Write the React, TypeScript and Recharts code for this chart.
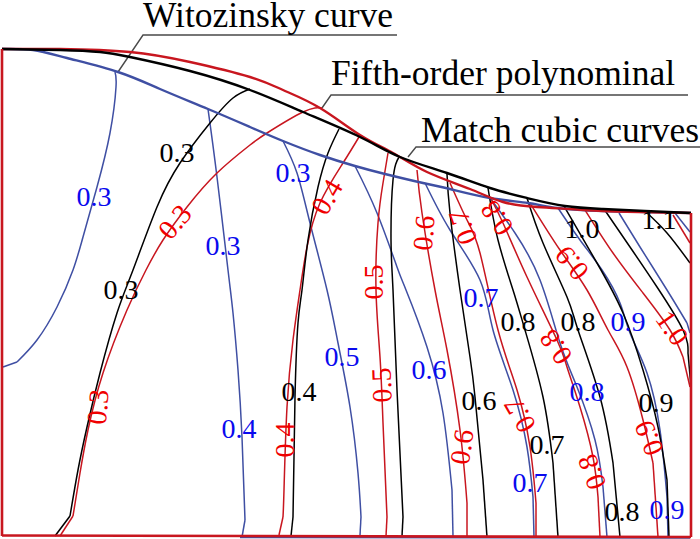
import React from "react";
import { ComposedChart, Line, Scatter, XAxis, YAxis } from "recharts";

type P = { x: number; y: number };
type L = { x: number; y: number; text: string; angle?: number };
const pts = (a: number[][]): P[] => a.map(([x, y]) => ({ x, y }));

const RED = "#c8161f";
const BLUE = "#3f4fa3";
const BLACK = "#000000";
const LEADER = "#4a4a4a";

// outline
const frameLeft = pts([[2, 49], [2, 536]]);
const frameBottom = pts([[2, 535.5], [691, 537]]);
const frameRight = pts([[691, 213], [691, 537]]);
const bottomBlue = pts([[240, 537.5], [690, 538]]);

// shroud curves
const shroudRed = pts([[2, 49], [60, 49], [130, 52], [190, 62], [250, 77], [283, 90], [320, 108], [360, 135], [393, 153], [427, 172], [470, 189], [503, 202], [537, 207], [570, 209], [603, 211], [640, 212], [691, 213]]);
const shroudBlack = pts([[2, 49], [60, 50], [100, 52], [130, 57], [190, 71], [250, 90], [303, 112], [360, 137], [400, 157], [447, 173], [490, 188], [527, 198], [565, 206], [603, 209], [645, 211], [691, 213]]);
const shroudBlue = pts([[2, 49], [33, 50], [67, 58], [118, 72], [160, 89], [208, 109], [250, 127], [283, 141], [320, 155], [355, 166], [385, 174], [423, 183], [450, 189], [490, 198], [528, 203], [558, 208], [603, 211], [645, 212], [691, 213]]);

// red contours (the last pair of each is the short straight tail at the hub)
const red03 = pts([[322, 108], [303, 112], [267, 133], [250, 145], [217, 173], [187, 207], [163, 240], [146, 270], [127, 310], [103, 373], [88, 430], [80, 473], [73, 516], [60, 536]]);
const red04 = pts([[359, 137], [343, 163], [320, 203], [307, 247], [300, 290], [293, 340], [287, 407], [284, 490], [283, 517], [279, 535]]);
const red05 = pts([[388, 153], [383, 183], [378, 223], [376, 290], [380, 357], [383, 423], [387, 517], [386, 536]]);
const red06 = pts([[417, 170], [422, 213], [435, 290], [447, 350], [460, 430], [467, 503], [467, 536]]);
const red07 = pts([[450, 183], [467, 220], [480, 253], [498, 330], [517, 390], [530, 447], [536, 503], [536, 537]]);
const red08 = pts([[490, 197], [503, 223], [527, 277], [557, 340], [567, 367], [580, 407], [593, 457], [598, 497], [600, 537]]);
const red09 = pts([[530, 203], [560, 250], [587, 290], [608, 330], [627, 367], [643, 420], [653, 463], [658, 537]]);
const red10 = pts([[585, 210], [613, 253], [643, 293], [670, 330], [683, 357], [690, 387]]);
const red11 = pts([[673, 215], [690, 243]]);

// black contours
const black03 = pts([[250, 89], [233, 98], [210, 123], [180, 163], [157, 207], [133, 270], [117, 313], [100, 373], [87, 427], [78, 470], [70, 516], [55, 536]]);
const black04 = pts([[339, 129], [328, 153], [318, 187], [308, 240], [302, 290], [298, 323], [295, 397], [293, 517], [291, 536]]);
const black05 = pts([[399, 157], [393, 180], [391, 240], [393, 290], [397, 390], [403, 517], [402, 536]]);
const black06 = pts([[447, 174], [450, 213], [460, 290], [470, 357], [475, 397], [483, 480], [487, 537]]);
const black07 = pts([[488, 188], [498, 240], [513, 290], [525, 330], [543, 397], [553, 463], [558, 537]]);
const black08 = pts([[527, 198], [543, 243], [567, 297], [578, 330], [600, 397], [613, 463], [620, 537]]);
const black09 = pts([[564, 206], [597, 263], [623, 313], [643, 370], [658, 427], [667, 480], [669, 537]]);
const black10 = pts([[604, 209], [630, 247], [657, 287], [683, 330], [688, 353], [691, 387]]);
const black11 = pts([[645, 211], [667, 233], [690, 263]]);

// blue contours
const blue03a = pts([[115, 72], [116, 87], [110, 133], [97, 187], [83, 237], [73, 270], [57, 307], [37, 340], [17, 362], [3, 367]]);
const blue03b = pts([[208, 109], [217, 177], [228, 270], [233, 313], [238, 370], [242, 437], [245, 520], [242, 537]]);
const blue05 = pts([[283, 141], [297, 173], [310, 223], [327, 290], [338, 343], [350, 407], [358, 473], [361, 517], [360, 535]]);
const blue06 = pts([[355, 166], [377, 213], [397, 267], [406, 290], [427, 347], [443, 413], [452, 490], [453, 536]]);
const blue07 = pts([[425, 183], [450, 230], [480, 280], [493, 330], [513, 390], [527, 447], [533, 497], [534, 537]]);
const blue08 = pts([[490, 198], [515, 233], [540, 280], [560, 343], [577, 387], [595, 440], [603, 487], [607, 537]]);
const blue09 = pts([[558, 208], [580, 240], [602, 270], [620, 303], [630, 333], [647, 373], [660, 430], [667, 497], [668, 537]]);
const blue10 = pts([[619, 213], [640, 247], [667, 290], [687, 323], [690, 333]]);
const blue11 = pts([[675, 213], [690, 232]]);

// leader lines
const leaderA = pts([[118, 72], [143, 35], [397, 35]]);
const leaderB = pts([[322, 108], [331, 95], [688, 95]]);
const leaderC = pts([[408, 157], [416, 147], [700, 147]]);

// text
const titles: L[] = [
  { x: 143, y: 27, text: "Witozinsky curve" },
  { x: 331, y: 85, text: "Fifth-order polynominal" },
  { x: 421, y: 142, text: "Match cubic curves" },
];
const blackLabels: L[] = [
  { x: 177, y: 153, text: "0.3" },
  { x: 121, y: 290, text: "0.3" },
  { x: 299, y: 392, text: "0.4" },
  { x: 479, y: 401, text: "0.6" },
  { x: 547, y: 445, text: "0.7" },
  { x: 622, y: 512, text: "0.8" },
  { x: 656, y: 403, text: "0.9" },
  { x: 518, y: 322, text: "0.8" },
  { x: 578, y: 322, text: "0.8" },
  { x: 582, y: 229, text: "1.0" },
  { x: 659, y: 220, text: "1.1" },
];
const blueLabels: L[] = [
  { x: 94, y: 197, text: "0.3" },
  { x: 223, y: 246, text: "0.3" },
  { x: 293, y: 173, text: "0.3" },
  { x: 239, y: 429, text: "0.4" },
  { x: 342, y: 357, text: "0.5" },
  { x: 429, y: 370, text: "0.6" },
  { x: 481, y: 298, text: "0.7" },
  { x: 530, y: 483, text: "0.7" },
  { x: 587, y: 392, text: "0.8" },
  { x: 628, y: 322, text: "0.9" },
  { x: 667, y: 510, text: "0.9" },
];
const redLabels: L[] = [
  { x: 175, y: 222, text: "0.3", angle: -50 },
  { x: 98, y: 407, text: "0.3", angle: -85 },
  { x: 285, y: 440, text: "0.4", angle: -90 },
  { x: 327, y: 197, text: "0.4", angle: -60 },
  { x: 382, y: 385, text: "0.5", angle: -92 },
  { x: 374, y: 282, text: "0.5", angle: -90 },
  { x: 424, y: 233, text: "0.6", angle: -85 },
  { x: 462, y: 447, text: "0.6", angle: -82 },
  { x: 463, y: 227, text: "0.7", angle: -110 },
  { x: 520, y: 415, text: "0.7", angle: -120 },
  { x: 497, y: 218, text: "0.8", angle: -125 },
  { x: 556, y: 347, text: "0.8", angle: -125 },
  { x: 592, y: 472, text: "0.8", angle: -110 },
  { x: 572, y: 263, text: "0.9", angle: -130 },
  { x: 649, y: 438, text: "0.9", angle: -112 },
  { x: 672, y: 328, text: "1.0", angle: 55 },
];

const FONT = "'Liberation Serif', serif";

const labelShape = (fill: string, fontSize: number) => (props: any) => {
  const { cx, cy, payload } = props;
  const a = payload.angle || 0;
  return (
    <text
      x={cx}
      y={cy + fontSize * 0.33}
      fill={fill}
      fontFamily={FONT}
      fontSize={fontSize}
      textAnchor="middle"
      transform={a ? `rotate(${a} ${cx} ${cy})` : undefined}
    >
      {payload.text}
    </text>
  );
};
const titleShape = (props: any) => {
  const { cx, cy, payload } = props;
  return (
    <text x={cx} y={cy} fill="#000" fontFamily={FONT} fontSize={35.5} textAnchor="start">
      {payload.text}
    </text>
  );
};

const curve = (d: P[], stroke: string, width: number, type: any, key: string) => (
  <Line
    key={key}
    data={d}
    dataKey="y"
    type={type}
    stroke={stroke}
    strokeWidth={width}
    dot={false}
    activeDot={false}
    isAnimationActive={false}
    legendType="none"
  />
);

// A contour: smooth body, then its straight last stretch to the hub.
const contour = (d: P[], stroke: string, key: string) => {
  if (d.length < 4) return [curve(d, stroke, 1.5, "natural", key)];
  const n = d.length;
  return [
    curve(d.slice(0, n - 1), stroke, 1.5, "natural", key + "m"),
    curve(d.slice(n - 2), stroke, 1.5, "linear", key + "t"),
  ];
};

export default function App() {
  const blues = [blue03a, blue03b, blue05, blue06, blue07, blue08, blue09, blue10, blue11];
  const blacks = [black03, black04, black05, black06, black07, black08, black09, black10, black11];
  const reds = [red03, red04, red05, red06, red07, red08, red09, red10, red11];
  return (
    <div style={{ position: "absolute", left: 0, top: 0, width: 700, height: 539, background: "#fff" }}>
      <ComposedChart width={700} height={539} margin={{ top: 0, right: 0, bottom: 0, left: 0 }}>
        <XAxis type="number" dataKey="x" domain={[0, 700]} hide allowDataOverflow />
        <YAxis type="number" dataKey="y" domain={[0, 539]} reversed hide allowDataOverflow />
        {curve(leaderA, LEADER, 1.4, "linear", "la")}
        {curve(leaderB, LEADER, 1.4, "linear", "lb")}
        {curve(leaderC, LEADER, 1.4, "linear", "lc")}
        {blues.flatMap((d, i) => contour(d, BLUE, `bl${i}`))}
        {reds.flatMap((d, i) => contour(d, RED, `r${i}`))}
        {blacks.flatMap((d, i) => contour(d, BLACK, `k${i}`))}
        {curve(bottomBlue, BLUE, 1.5, "linear", "bb")}
        {curve(shroudBlue, BLUE, 2.4, "natural", "sb")}
        {curve(shroudRed, RED, 2.4, "natural", "sr")}
        {curve(shroudBlack, BLACK, 2.4, "natural", "sk")}
        {curve(frameLeft, RED, 2.6, "linear", "fl")}
        {curve(frameBottom, RED, 2.6, "linear", "fb")}
        {curve(frameRight, RED, 2.6, "linear", "fr")}
        <Scatter data={titles} shape={titleShape} isAnimationActive={false} legendType="none" />
        <Scatter data={blackLabels} shape={labelShape("#000000", 28)} isAnimationActive={false} legendType="none" />
        <Scatter data={blueLabels} shape={labelShape("#0a0aee", 28)} isAnimationActive={false} legendType="none" />
        <Scatter data={redLabels} shape={labelShape("#f00000", 28)} isAnimationActive={false} legendType="none" />
      </ComposedChart>
    </div>
  );
}
